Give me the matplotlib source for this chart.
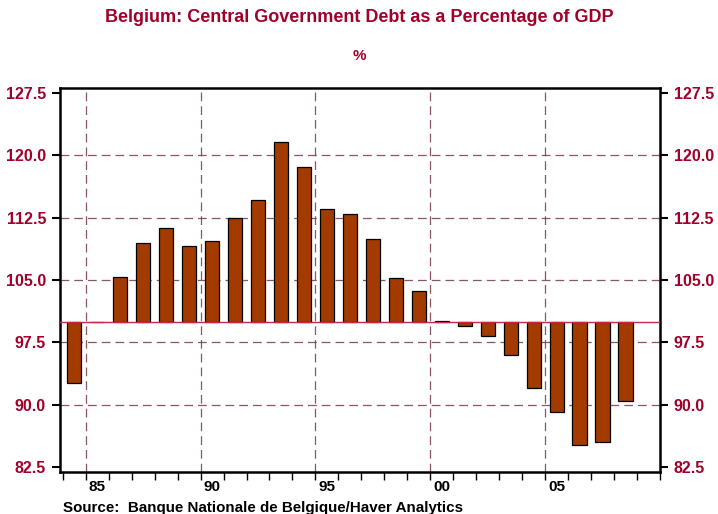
import matplotlib
matplotlib.use("Agg")
import matplotlib.pyplot as plt
import numpy as np

years = list(range(1984, 2009))
debt_pct = [92.6, 100.0, 105.4, 109.45, 111.2, 109.1, 109.7, 112.5, 114.65, 121.55,
            118.55, 113.5, 112.9, 109.9, 105.3, 103.7, 100.05, 99.47, 98.3, 96.0,
            92.0, 89.1, 85.1, 85.45, 90.4]
baseline = 100.0
ytick_vals = [82.5, 90.0, 97.5, 105.0, 112.5, 120.0, 127.5]
xlabel_years = [1985, 1990, 1995, 2000, 2005]
xlabel_text = ["85", "90", "95", "00", "05"]

title = "Belgium: Central Government Debt as a Percentage of GDP"
subtitle = "%"
source = "Source:  Banque Nationale de Belgique/Haver Analytics"

crimson = "#A0002A"
bar_color = "#A33A00"
grid_color = "#7a3848"

plt.rcParams['font.family'] = ['Liberation Sans', 'DejaVu Sans']
plt.rcParams['font.weight'] = 'bold'

fig = plt.figure(figsize=(7.18, 5.14), dpi=100)
ax = fig.add_axes([60/718, 42/514, 600/718, 384/514])

x = np.array(years) + 0.5
vals = np.array(debt_pct)
ax.bar(x, vals - baseline, bottom=baseline, width=0.62, color=bar_color,
       edgecolor='black', linewidth=0.9, zorder=3)
ax.axhline(baseline, color='#C8284E', linewidth=1.0, zorder=4)

ax.set_xlim(1983.88, 2010.0)
ax.set_ylim(81.9, 128.1)

for gy in [90.0, 97.5, 105.0, 112.5, 120.0]:
    ax.axhline(gy, color=grid_color, linestyle=(0, (7, 4)), linewidth=0.9, alpha=0.85, zorder=1)
for gx in xlabel_years:
    ax.axvline(gx, color=grid_color, linestyle=(0, (7, 4)), linewidth=0.9, alpha=0.85, zorder=1)

ax.set_yticks(ytick_vals)
ax.set_yticklabels([f"{v:.1f}" for v in ytick_vals])
ax.tick_params(axis='y', which='both', direction='out', length=6, width=1.5,
               labelcolor=crimson, labelsize=11.5, left=True, right=True,
               labelleft=True, labelright=True, pad=4)

ax.set_xticks(list(range(1984, 2011)), minor=True)
ax.set_xticks([y + 0.5 for y in xlabel_years])
ax.set_xticklabels(xlabel_text)
ax.tick_params(axis='x', which='major', length=0, labelsize=11, pad=6, labelcolor='black')
ax.tick_params(axis='x', which='minor', direction='out', length=6, width=1.0)

for s in ax.spines.values():
    s.set_linewidth(1.8)
    s.set_color('black')

fig.text(0.5, 1 - 17/514, title, ha='center', va='center', color=crimson,
         fontsize=13, fontweight='bold')
fig.text(0.5, 1 - 56/514, subtitle, ha='center', va='center', color=crimson,
         fontsize=11, fontweight='bold')
fig.text(63/718, 1 - 508/514, source, ha='left', va='center', color='black',
         fontsize=10.9, fontweight='bold')

fig.savefig("out.png", dpi=100)
